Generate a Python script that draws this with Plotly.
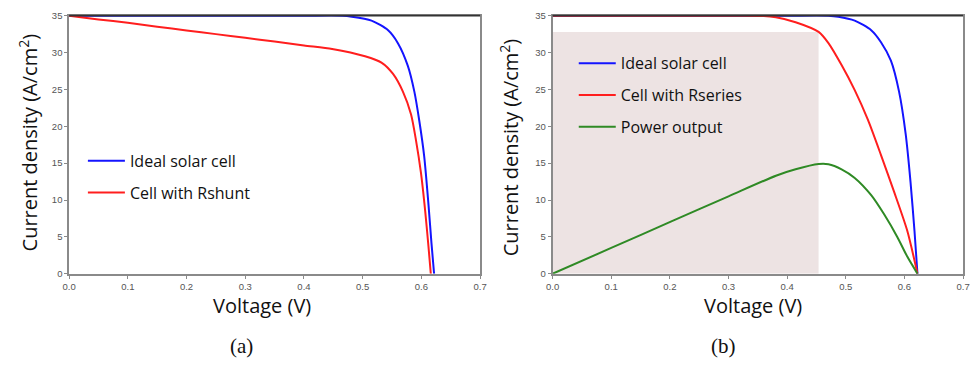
import plotly.graph_objects as go

# ---- data: J–V characteristics, V in volts, J in A/cm^2 ----
# (a) ideal cell vs. cell with shunt resistance
v_ideal_a = [0.0, 0.10, 0.20, 0.30, 0.40, 0.465, 0.4816, 0.515, 0.5433, 0.560, 0.5769, 0.588, 0.5964,
             0.6048, 0.6121, 0.6172, 0.6216]
j_ideal_a = [35.0, 35.0, 35.0, 35.0, 35.0, 35.0, 34.87, 34.34, 33.03, 31.28, 28.2, 24.7, 20.75,
             15.9, 9.34, 4.08, 0.0]

v_shunt = [0.0, 0.05, 0.10, 0.15, 0.20, 0.25, 0.30, 0.35, 0.40, 0.448, 0.504, 0.532, 0.5517, 0.5685,
           0.5824, 0.5908, 0.5992, 0.6065, 0.6121, 0.616]
j_shunt = [35.0, 34.5, 34.04, 33.5, 33.0, 32.5, 32.0, 31.5, 30.96, 30.49, 29.5, 28.64, 27.1, 24.7,
           21.6, 18.1, 13.7, 8.46, 3.64, 0.0]

# (b) ideal cell, cell with series resistance, and power output
v_ideal_b = [0.0, 0.10, 0.20, 0.30, 0.40, 0.47, 0.4872, 0.5152, 0.5433, 0.560, 0.5769, 0.5908, 0.602,
             0.6104, 0.6171, 0.6222]
j_ideal_b = [35.0, 35.0, 35.0, 35.0, 35.0, 35.0, 34.87, 34.34, 33.03, 31.4, 28.9, 24.7, 19.0,
             12.4, 5.83, 0.0]

v_series = [0.0, 0.10, 0.20, 0.30, 0.36, 0.3808, 0.4144, 0.4536, 0.4704, 0.4928, 0.5152, 0.5376, 0.560,
            0.5824, 0.6048, 0.6222]
j_series = [35.0, 35.0, 35.0, 35.0, 34.97, 34.78, 34.12, 32.8, 31.28, 28.3, 24.9, 20.9, 16.1,
            11.1, 5.83, 0.0]

v_power = [0.0, 0.10, 0.2016, 0.30, 0.3808, 0.4144, 0.4536, 0.4704, 0.4928, 0.5152, 0.5433, 0.5656,
           0.588, 0.6048, 0.6222]
p_power = [0.0, 3.5, 7.06, 10.5, 13.3, 14.17, 14.88, 14.85, 14.17, 13.0, 10.66, 8.03,
           4.96, 2.33, 0.0]

x_ticks = [0.0, 0.1, 0.2, 0.3, 0.4, 0.5, 0.6, 0.7]
y_ticks = [0, 5, 10, 15, 20, 25, 30, 35]

# maximum power point defines the shaded rectangle under the Rseries curve
i_mp = max(range(len(p_power)), key=lambda i: p_power[i])
v_mp = v_power[i_mp]
j_mp = j_series[v_series.index(v_mp)]

BLUE = "#1414ff"
RED = "#ff1e1e"
GREEN = "#2f8a25"
AXIS_GREY = "#8a8a8a"
TICK_FONT = dict(family="Liberation Sans, Arial, sans-serif", size=9.5, color="#555555")
TITLE_FONT = dict(family="Open Sans, sans-serif", size=20, color="#111111")
LEGEND_FONT = dict(family="Open Sans, sans-serif", size=16, color="#111111")


def curve(color):
    return dict(color=color, width=2, shape="spline", smoothing=0.7)


W, H = 977, 368
fig = go.Figure()

# ---- panel (a) ----
fig.add_trace(go.Scatter(x=v_ideal_a, y=j_ideal_a, mode="lines", name="Ideal solar cell",
                         line=curve(BLUE), xaxis="x", yaxis="y",
                         legend="legend", legendgroup="a1"))
fig.add_trace(go.Scatter(x=v_shunt, y=j_shunt, mode="lines", name="Cell with Rshunt",
                         line=curve(RED), xaxis="x", yaxis="y",
                         legend="legend", legendgroup="a2"))

# ---- panel (b) ----
fig.add_trace(go.Scatter(x=[0, v_mp, v_mp, 0, 0], y=[0, 0, j_mp, j_mp, 0], mode="lines",
                         fill="toself", fillcolor="#ede3e3", line=dict(width=0),
                         hoverinfo="skip", showlegend=False, xaxis="x2", yaxis="y2"))
fig.add_trace(go.Scatter(x=v_ideal_b, y=j_ideal_b, mode="lines", name="Ideal solar cell",
                         line=curve(BLUE), xaxis="x2", yaxis="y2",
                         legend="legend2", legendgroup="b1"))
fig.add_trace(go.Scatter(x=v_series, y=j_series, mode="lines", name="Cell with Rseries",
                         line=curve(RED), xaxis="x2", yaxis="y2",
                         legend="legend2", legendgroup="b2"))
fig.add_trace(go.Scatter(x=v_power, y=p_power, mode="lines", name="Power output",
                         line=curve(GREEN), xaxis="x2", yaxis="y2",
                         legend="legend2", legendgroup="b3"))

dom_a = [63 / W, 480 / W]
dom_b = [553.5 / W, 970 / W]
dom_y = [1 - 276 / H, 1 - 10 / H]

xcommon = dict(range=[0, 0.7], tickvals=x_ticks, ticktext=[f"{t:.1f}" for t in x_ticks],
               showgrid=False, zeroline=False, showline=True, linecolor=AXIS_GREY, linewidth=1.5,
               mirror=True, ticks="outside", ticklen=3, tickcolor=AXIS_GREY, tickfont=TICK_FONT)
ycommon = dict(range=[0, 35], tickvals=y_ticks, showgrid=False, zeroline=False, showline=True,
               linecolor=AXIS_GREY, linewidth=1.5, mirror=True, ticks="outside", ticklen=3,
               tickcolor=AXIS_GREY, tickfont=TICK_FONT)

legend_common = dict(font=LEGEND_FONT, bgcolor="rgba(0,0,0,0)", borderwidth=0, itemwidth=37,
                     traceorder="grouped", tracegroupgap=8, xanchor="left", yanchor="top")

fig.update_layout(
    width=W, height=H, autosize=False,
    margin=dict(l=0, r=0, t=0, b=0),
    paper_bgcolor="white", plot_bgcolor="white",
    xaxis=dict(domain=dom_a, anchor="y", **xcommon),
    yaxis=dict(domain=dom_y, anchor="x", **ycommon),
    xaxis2=dict(domain=dom_b, anchor="y2", **xcommon),
    yaxis2=dict(domain=dom_y, anchor="x2", **ycommon),
    legend=dict(x=77 / W, y=1 - 142 / H, **legend_common),
    legend2=dict(x=575 / W, y=1 - 41.5 / H, **legend_common),
)

# dark top frame line of both panels
for xr, yr in (("x domain", "y domain"), ("x2 domain", "y2 domain")):
    fig.add_shape(type="line", xref=xr, yref=yr, x0=0, x1=1, y0=1, y1=1,
                  line=dict(color="#333333", width=1.8), layer="above")

# axis titles and panel captions
for xc, yc in ((22, 141), (510, 146)):
    fig.add_annotation(text="Current density (A/cm<sup>2</sup>)", xref="paper", yref="paper",
                       x=xc / W, y=1 - yc / H, showarrow=False, textangle=-90,
                       xanchor="center", yanchor="middle", font=TITLE_FONT)
for xc in (259, 757):
    fig.add_annotation(text="Voltage (V)", xref="paper", yref="paper", x=xc / W, y=1 - 309 / H,
                       showarrow=False, xanchor="center", yanchor="middle", font=TITLE_FONT)
for xc, cap in ((238, "(a)"), (727, "(b)")):
    fig.add_annotation(text=cap, xref="paper", yref="paper", x=xc / W, y=1 - 350 / H,
                       showarrow=False, xanchor="center", yanchor="middle",
                       font=dict(family="Liberation Serif, DejaVu Serif, serif", size=21, color="#111111"))

fig.write_html("out.html")
